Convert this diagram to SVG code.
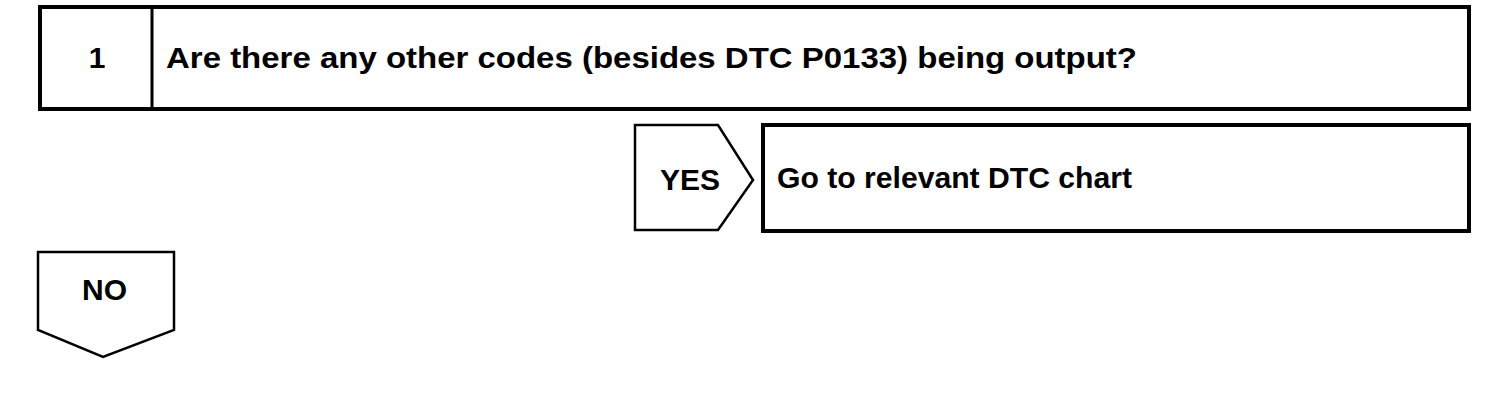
<svg xmlns="http://www.w3.org/2000/svg" width="1504" height="402" viewBox="0 0 1504 402">
<style>
.box{fill:#fff;stroke:#000;stroke-width:4;stroke-linejoin:miter}
.thin{fill:#fff;stroke:#000;stroke-width:2.5;stroke-linejoin:miter}
.t{font-family:"Liberation Sans",Arial,sans-serif;font-weight:bold;font-size:30px;fill:#000}
</style>
<rect width="1504" height="402" fill="#fff"/>
<g id="step1">
<rect class="box" x="40" y="7" width="1429" height="102"/>
<line x1="152" y1="7" x2="152" y2="109" stroke="#000" stroke-width="3"/>
<text class="t" x="97" y="68" text-anchor="middle">1</text>
<text class="t" x="166" y="68" textLength="971" lengthAdjust="spacingAndGlyphs">Are there any other codes (besides DTC P0133) being output?</text>
</g>
<g id="yes">
<polygon class="thin" points="635,125 718,125 753,180 718,230 635,230"/>
<text class="t" x="660" y="190" textLength="60" lengthAdjust="spacingAndGlyphs">YES</text>
</g>
<g id="result">
<rect class="box" x="763" y="125" width="706" height="106"/>
<text class="t" x="777" y="188" textLength="355" lengthAdjust="spacingAndGlyphs">Go to relevant DTC chart</text>
</g>
<g id="no">
<polygon class="thin" points="38,252 174,252 174,330 103,357 38,330"/>
<text class="t" x="82" y="300" textLength="45" lengthAdjust="spacingAndGlyphs">NO</text>
</g>
<g id="connectors"></g>
</svg>
